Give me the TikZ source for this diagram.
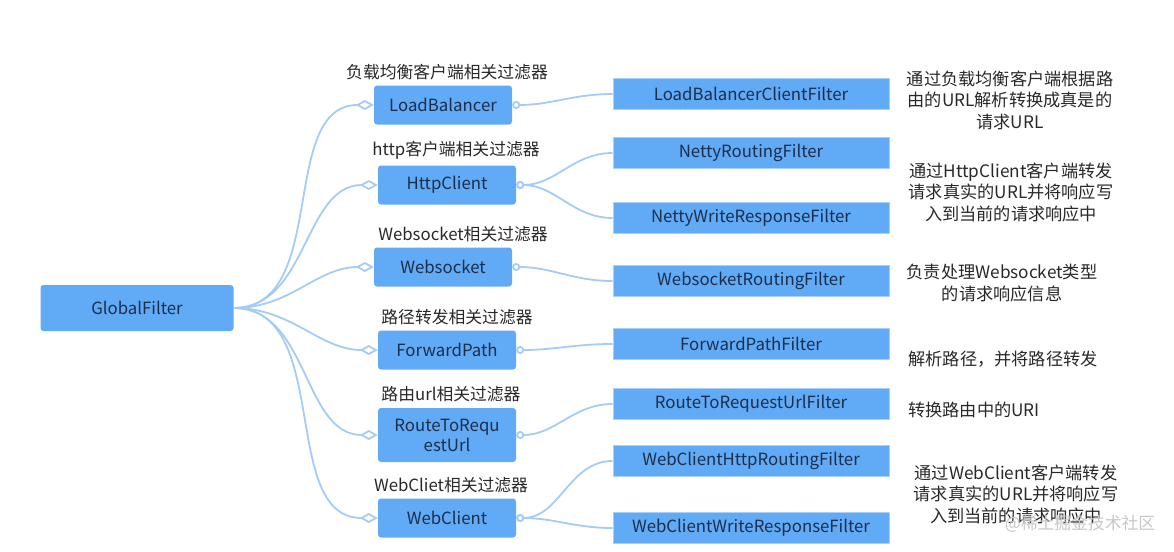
\documentclass[tikz,border=0pt]{standalone}
\usepackage{fontspec}
\setmainfont{Noto Sans CJK SC}
\usepackage{tikz}
\usetikzlibrary{positioning,arrows.meta}
\usepackage{xcolor}
\definecolor{boxblue}{RGB}{96,170,246}
\definecolor{linkblue}{RGB}{165,204,245}
\definecolor{boxtext}{RGB}{28,46,74}
\definecolor{notetext}{RGB}{40,40,40}

\begin{document}
\begin{tikzpicture}[x=1pt,y=-1pt,
  lbox/.style={fill=boxblue,rounded corners=3pt,text=boxtext,minimum width=138pt,minimum height=39pt,align=center,font=\fontsize{16.8}{20}\selectfont},
  rbox/.style={fill=boxblue,draw=boxblue!55,line width=1pt,text=boxtext,minimum width=276pt,minimum height=31pt,font=\fontsize{16.8}{20}\selectfont},
  grplabel/.style={text=notetext,font=\fontsize{16.8}{20}\selectfont},
  note/.style={text=notetext,align=center,font=\fontsize{17.2}{21.5}\selectfont},
  link/.style={draw=linkblue,line width=1.8pt,-{Diamond[open,length=18pt,width=10pt]}},
  sub/.style={draw=linkblue,line width=1.8pt,{Circle[open,length=8pt]}-}]
\useasboundingbox (0,0) rectangle (1174,551);
\node[lbox,minimum width=193pt,minimum height=46pt] (gf) at (137,308) {GlobalFilter};
\node[lbox] (lb) at (443,105) {LoadBalancer};
\node[lbox] (hc) at (447,185) {HttpClient};
\node[lbox] (ws) at (443,267) {Websocket};
\node[lbox] (fp) at (447,350) {ForwardPath};
\node[lbox,minimum height=54pt] (rt) at (447,435) {RouteToRequ\\estUrl};
\node[lbox] (wc) at (447,518) {WebClient};
% group captions
\node[grplabel,above=2pt of lb,xshift=4pt] {负载均衡客户端相关过滤器};
\node[grplabel,above=2pt of hc,xshift=9pt] {http客户端相关过滤器};
\node[grplabel,above=2pt of ws,xshift=20pt] {Websocket相关过滤器};
\node[grplabel,above=2pt of fp,xshift=10pt] {路径转发相关过滤器};
\node[grplabel,above=2pt of rt,xshift=4pt] {路由url相关过滤器};
\node[grplabel,above=2pt of wc,xshift=4pt] {WebCliet相关过滤器};
% filters
\node[rbox] (lbc) at (751,94) {LoadBalancerClientFilter};
\node[rbox] (nr) at (751,153) {NettyRoutingFilter};
\node[rbox] (nw) at (751,218) {NettyWriteResponseFilter};
\node[rbox] (wsr) at (751,281) {WebsocketRoutingFilter};
\node[rbox] (fpf) at (751,344) {ForwardPathFilter};
\node[rbox] (rtf) at (751,404) {RouteToRequestUrlFilter};
\node[rbox] (wch) at (751,461) {WebClientHttpRoutingFilter};
\node[rbox] (wcw) at (751,528) {WebClientWriteResponseFilter};
% notes
\node[note] (d1) at (1010,100) {通过负载均衡客户端根据路\\由的URL解析转换成真是的\\请求URL};
\node[note] (d2) at (1011,192) {通过HttpClient客户端转发\\请求真实的URL并将响应写\\入到当前的请求响应中};
\node[note] (d3) at (1002,283) {负责处理Websocket类型\\的请求响应信息};
\node[note] (d4) at (1003,359) {解析路径，并将路径转发};
\node[note] (d5) at (974,410) {转换路由中的URI};
\node[note] (d6) at (1016,494) {通过WebClient客户端转发\\请求真实的URL并将响应写\\入到当前的请求响应中};
\node[text=black!22,font=\fontsize{16.8}{20}\selectfont] (wm) at (1080,524) {@稀土掘金技术社区};
% connectors
\draw[link] (gf.east) to[out=0,in=180] (lb.west);
\draw[link] (gf.east) to[out=0,in=180] (hc.west);
\draw[link] (gf.east) to[out=0,in=180] (ws.west);
\draw[link] (gf.east) to[out=0,in=180] (fp.west);
\draw[link] (gf.east) to[out=0,in=180] (rt.west);
\draw[link] (gf.east) to[out=0,in=180] (wc.west);
\draw[sub] (lb.east) to[out=0,in=180] (lbc.west);
\draw[sub] (hc.east) to[out=0,in=180] (nr.west);
\draw[sub] (hc.east) to[out=0,in=180] (nw.west);
\draw[sub] (ws.east) to[out=0,in=180] (wsr.west);
\draw[sub] (fp.east) to[out=0,in=180] (fpf.west);
\draw[sub] (rt.east) to[out=0,in=180] (rtf.west);
\draw[sub] (wc.east) to[out=0,in=180] (wch.west);
\draw[sub] (wc.east) to[out=0,in=180] (wcw.west);
\end{tikzpicture}
\end{document}
